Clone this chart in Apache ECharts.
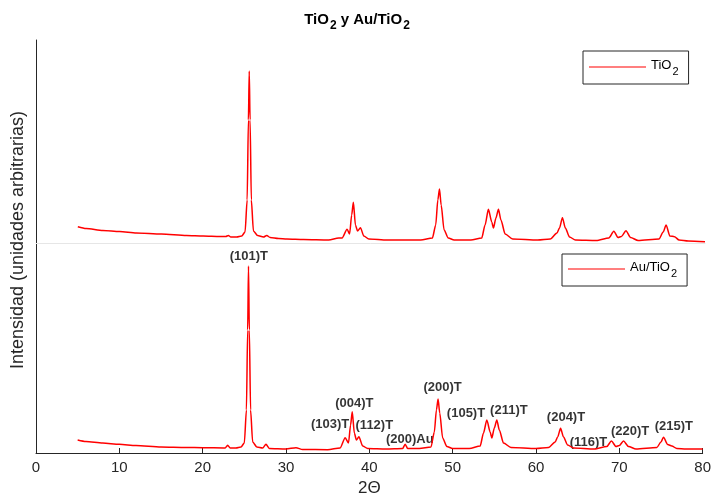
<!DOCTYPE html>
<html>
<head>
<meta charset="utf-8">
<script src="https://cdn.jsdelivr.net/npm/echarts@6/dist/echarts.min.js"></script>
<style>
html,body{margin:0;padding:0;background:#fff;}
#chart{width:714px;height:501px;}
</style>
</head>
<body>
<div id="chart"></div>
<script>
// ---- Data ----
var xTicks = [0, 10, 20, 30, 40, 50, 60, 70, 80];

// TiO2 pattern (2θ, intensity a.u.)
var tio2Theta = [5.0, 6, 8, 10, 12, 15, 18, 20, 22, 22.7, 23.0, 23.3, 24.0, 24.6, 25.0, 25.25, 25.4, 25.5, 25.6, 25.75, 26.0, 26.5, 27.2, 27.6, 28.0, 29, 30, 32, 35, 36.2, 36.6, 37.2, 37.5, 37.75, 37.95, 38.2, 38.45, 38.8, 39.2, 39.8, 42, 44.3, 46, 47.4, 47.8, 48.05, 48.25, 48.45, 48.8, 49.3, 50, 52, 53.3, 53.7, 54.1, 54.5, 54.7, 55.0, 55.3, 55.6, 56.1, 57, 60, 61.5, 62.3, 62.6, 62.95, 63.3, 63.8, 64.5, 67, 68.5, 69.1, 69.6, 70.0, 70.55, 71.1, 72, 74.5, 75.0, 75.35, 75.8, 76.35, 76.9, 78, 80];
var tio2Int   = [163, 145, 125, 115, 100, 90, 75, 70, 65, 65, 75, 60, 60, 70, 110, 430, 1230, 1720, 1230, 430, 120, 75, 60, 75, 55, 45, 40, 35, 30, 50, 50, 137, 90, 280, 407, 180, 120, 153, 70, 40, 30, 30, 30, 50, 180, 430, 540, 380, 130, 50, 30, 30, 50, 180, 337, 210, 150, 250, 337, 230, 90, 40, 30, 40, 100, 150, 253, 150, 60, 30, 25, 50, 117, 55, 65, 123, 55, 25, 40, 110, 180, 70, 63, 30, 20, 13];

// Au/TiO2 pattern (2θ, intensity a.u.)
var auTheta = [5.0, 6, 8, 10, 12, 15, 18, 20, 22.7, 23.0, 23.3, 24.0, 24.6, 25.0, 25.25, 25.4, 25.5, 25.6, 25.75, 26.0, 26.5, 27.2, 27.6, 28.0, 30, 31.2, 32, 35, 36.5, 37.1, 37.5, 37.75, 37.95, 38.2, 38.45, 38.75, 39.2, 39.8, 42, 44.0, 44.3, 44.6, 46, 47.4, 47.8, 48.05, 48.25, 48.45, 48.8, 49.3, 50, 52, 53.3, 53.7, 54.1, 54.5, 54.7, 55.0, 55.3, 55.6, 56.1, 57, 60, 61.5, 62.3, 62.6, 62.95, 63.3, 63.8, 64.5, 67, 68.5, 69.05, 69.6, 70.0, 70.5, 71.1, 72, 74.5, 75.0, 75.3, 75.8, 76.3, 76.9, 78, 80];
var auInt   = [130, 115, 100, 87, 75, 60, 55, 53, 50, 77, 50, 50, 60, 100, 430, 1230, 1870, 1230, 430, 110, 60, 50, 87, 45, 40, 53, 35, 33, 50, 153, 100, 280, 413, 200, 130, 163, 70, 45, 40, 45, 87, 45, 45, 60, 210, 430, 540, 400, 150, 65, 45, 45, 70, 200, 330, 210, 150, 250, 330, 230, 100, 55, 45, 55, 110, 160, 247, 160, 80, 50, 40, 65, 120, 65, 75, 120, 65, 40, 55, 110, 157, 85, 70, 45, 40, 40];

// Peak annotations (Au/TiO2 panel)
var annoLabels = ['(101)T', '(103)T', '(004)T', '(112)T', '(200)Au', '(200)T', '(105)T', '(211)T', '(204)T', '(116)T', '(220)T', '(215)T'];
var annoTheta  = [25.55, 35.3, 38.2, 40.6, 44.85, 48.8, 51.6, 56.75, 63.6, 66.3, 71.3, 76.55];
var annoInt    = [1965, 290, 500, 273, 140, 657, 397, 430, 357, 103, 213, 263];

// ---- Build ----
function pairs(xs, ys) { return xs.map(function (x, i) { return [x, ys[i]]; }); }

var chart = echarts.init(document.getElementById('chart'), null, {renderer: 'canvas'});
var axisColor = '#262626';
var font = 'Liberation Sans, Arial, Helvetica, sans-serif';

var option = {
  animation: false,
  backgroundColor: '#fff',
  title: {
    text: '{a|TiO}{b|2}{a| y Au/TiO}{b|2}',
    left: 'center',
    top: 7,
    textStyle: {
      rich: {
        a: {fontSize: 15, fontWeight: 'bold', color: '#000', fontFamily: font, lineHeight: 18, verticalAlign: 'top'},
        b: {fontSize: 12, fontWeight: 'bold', color: '#000', fontFamily: font, lineHeight: 18, padding: [8, 0, 0, 1], verticalAlign: 'top'}
      }
    }
  },
  legend: [
    {
      data: ['TiO2'],
      left: 583, top: 51,
      orient: 'vertical',
      borderColor: '#262626', borderWidth: 1,
      padding: [8, 10, 7, 6],
      itemWidth: 57, itemHeight: 1, itemGap: 0,
      icon: 'rect',
      formatter: function () { return '{n|TiO}{s|2}'; },
      textStyle: {
        rich: {
          n: {fontSize: 13, color: '#000', fontFamily: font, lineHeight: 16, verticalAlign: 'top'},
          s: {fontSize: 11, color: '#000', fontFamily: font, lineHeight: 16, padding: [7, 0, 0, 1], verticalAlign: 'top'}
        }
      }
    },
    {
      data: ['Au/TiO2'],
      left: 562, top: 254,
      orient: 'vertical',
      borderColor: '#262626', borderWidth: 1,
      padding: [7, 10, 7, 6],
      itemWidth: 57, itemHeight: 1, itemGap: 0,
      icon: 'rect',
      formatter: function () { return '{n|Au/TiO}{s|2}'; },
      textStyle: {
        rich: {
          n: {fontSize: 13, color: '#000', fontFamily: font, lineHeight: 16, verticalAlign: 'top'},
          s: {fontSize: 11, color: '#000', fontFamily: font, lineHeight: 16, padding: [7, 0, 0, 1], verticalAlign: 'top'}
        }
      }
    }
  ],
  grid: [
    {left: 36, right: 9, top: 40, height: 203},
    {left: 36, right: 9, top: 243, height: 210}
  ],
  xAxis: [
    {
      gridIndex: 0, type: 'value', min: 0, max: 80, interval: 10,
      axisLine: {show: true, lineStyle: {color: '#e6e6e6', width: 1}},
      axisTick: {show: false}, axisLabel: {show: false}, splitLine: {show: false}
    },
    {
      gridIndex: 1, type: 'value', min: xTicks[0], max: xTicks[xTicks.length - 1], interval: 10,
      name: '2Θ', nameLocation: 'middle', nameGap: 27,
      nameTextStyle: {fontSize: 17, color: axisColor, fontFamily: font},
      axisLine: {show: true, lineStyle: {color: axisColor, width: 1}},
      axisTick: {show: true, inside: true, length: 5, lineStyle: {color: axisColor}},
      axisLabel: {fontSize: 15, color: axisColor, fontFamily: font, margin: 7},
      splitLine: {show: false}
    }
  ],
  yAxis: [
    {
      gridIndex: 0, type: 'value', min: 0, max: 2030,
      axisLine: {show: true, lineStyle: {color: axisColor, width: 1}},
      axisTick: {show: false}, axisLabel: {show: false}, splitLine: {show: false}
    },
    {
      gridIndex: 1, type: 'value', min: 0, max: 2100,
      axisLine: {show: true, lineStyle: {color: axisColor, width: 1}},
      axisTick: {show: false}, axisLabel: {show: false}, splitLine: {show: false}
    }
  ],
  graphic: [
    {
      type: 'text',
      x: 18, y: 240,
      rotation: Math.PI / 2,
      style: {
        text: 'Intensidad (unidades arbitrarias)',
        fontSize: 18, fill: axisColor, fontFamily: font,
        align: 'center', verticalAlign: 'middle'
      }
    }
  ],
  series: [
    {
      name: 'TiO2', type: 'line', xAxisIndex: 0, yAxisIndex: 0,
      data: pairs(tio2Theta, tio2Int), showSymbol: false, symbol: 'none',
      smooth: 0.25, smoothMonotone: 'x',
      lineStyle: {color: '#ff0000', width: 1.5}, itemStyle: {color: '#ff0000'}
    },
    {
      name: 'Au/TiO2', type: 'line', xAxisIndex: 1, yAxisIndex: 1,
      data: pairs(auTheta, auInt), showSymbol: false, symbol: 'none',
      smooth: 0.25, smoothMonotone: 'x',
      lineStyle: {color: '#ff0000', width: 1.5}, itemStyle: {color: '#ff0000'}
    },
    {
      name: 'labels', type: 'scatter', xAxisIndex: 1, yAxisIndex: 1,
      data: pairs(annoTheta, annoInt), symbolSize: 1,
      itemStyle: {color: 'rgba(255,255,255,0)'}, silent: true,
      label: {
        show: true, position: 'inside',
        formatter: function (p) { return annoLabels[p.dataIndex]; },
        fontSize: 13, fontWeight: 'bold', color: '#000', fontFamily: font
      },
      labelLayout: {hideOverlap: false}
    }
  ]
};
chart.setOption(option);
</script>
</body>
</html>
